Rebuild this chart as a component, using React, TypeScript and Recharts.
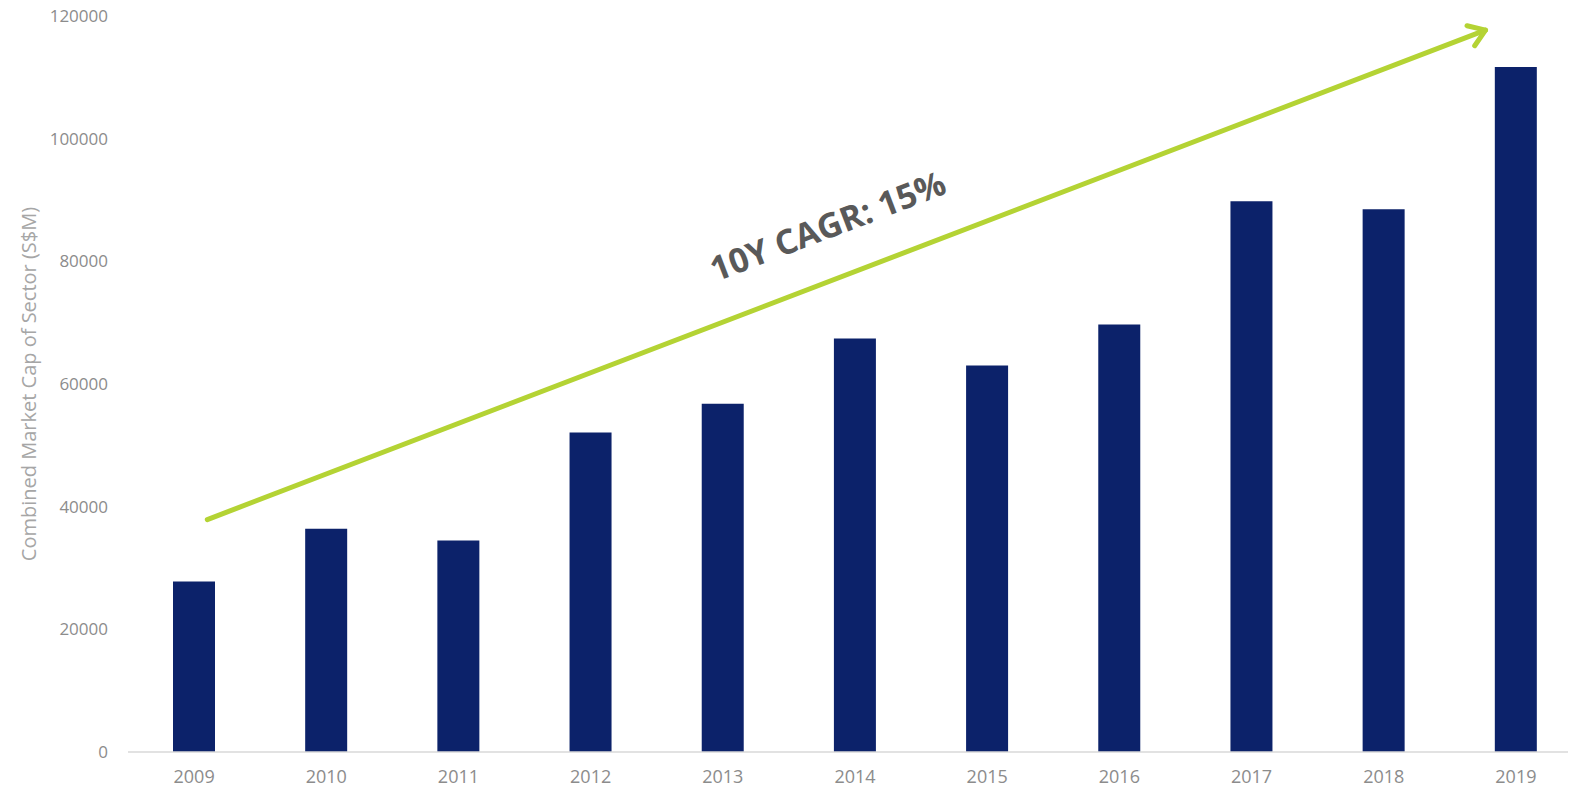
import { BarChart, Bar, XAxis, YAxis, ReferenceLine } from "recharts";

const years = ["2009", "2010", "2011", "2012", "2013", "2014", "2015", "2016", "2017", "2018", "2019"];
const marketCap = [27800, 36400, 34500, 52100, 56800, 67400, 63000, 69700, 89800, 88500, 111700];
const yTicks = [0, 20000, 40000, 60000, 80000, 100000, 120000];
// arrow start / end, x as category index
const trendStart = { x: 0.1, y: 37900 };
const trendEnd = { x: 9.77, y: 117700 };
const trendLabel = "10Y CAGR: 15%";

const data = years.map((year, i) => ({ year, idx: i, value: marketCap[i] }));

const GREEN = "#b4d334";

function TrendArrow(props: any) {
  const { x1, y1, x2, y2 } = props;
  const ang = Math.atan2(y2 - y1, x2 - x1);
  const head = 19;
  const spread = 0.6;
  const ax = x2 - head * Math.cos(ang - spread);
  const ay = y2 - head * Math.sin(ang - spread);
  const bx = x2 - head * Math.cos(ang + spread);
  const by = y2 - head * Math.sin(ang + spread);
  // text sits above the line, around its middle
  const t = 0.5;
  const mx = x1 + (x2 - x1) * t;
  const my = y1 + (y2 - y1) * t;
  const off = 53;
  const tx = mx + off * Math.sin(ang);
  const ty = my - off * Math.cos(ang);
  const deg = (ang * 180) / Math.PI;
  return (
    <g>
      <line x1={x1} y1={y1} x2={x2} y2={y2} stroke={GREEN} strokeWidth={5} strokeLinecap="round" />
      <polyline
        points={`${ax},${ay} ${x2},${y2} ${bx},${by}`}
        fill="none"
        stroke={GREEN}
        strokeWidth={5}
        strokeLinecap="round"
        strokeLinejoin="round"
      />
      <text
        x={tx}
        y={ty}
        textAnchor="middle"
        dominantBaseline="central"
        transform={`rotate(${deg}, ${tx}, ${ty})`}
        fontFamily="'Open Sans', sans-serif"
        fontWeight={700}
        fontSize={34}
        fill="#595959"
      >
        {trendLabel}
      </text>
    </g>
  );
}

export default function App() {
  const tickStyle = { fontFamily: "'Open Sans', sans-serif", fontSize: 17, fill: "#8c8c8c" };
  return (
    <div style={{ width: 1576, height: 789, overflow: "hidden", margin: "-8px 0 0 -8px" }}>
      <BarChart
        width={1582}
        height={789}
        data={data}
        margin={{ top: 16, right: 0, bottom: 7, left: 0 }}
        barSize={42}
      >
        <XAxis
          dataKey="year"
          axisLine={{ stroke: "#d9d9d9", strokeWidth: 1.5 }}
          tickLine={false}
          tickSize={0}
          tickMargin={18}
          height={30}
          tick={{ ...tickStyle, fontSize: 18 }}
          interval={0}
        />
        <XAxis
          xAxisId="n"
          dataKey="idx"
          type="number"
          scale="linear"
          domain={[-0.5, 10.5]}
          allowDataOverflow
          hide
        />
        <YAxis
          domain={[0, 120000]}
          ticks={yTicks}
          width={128}
          axisLine={false}
          tickLine={false}
          tickSize={0}
          tickMargin={20}
          tick={tickStyle}
          label={{
            content: (p: any) => {
              const vb = p.viewBox || {};
              const cy = (vb.y ?? 16) + (vb.height ?? 736) / 2;
              return (
                <text
                  x={28}
                  y={cy}
                  textAnchor="middle"
                  dominantBaseline="central"
                  transform={`rotate(-90, 28, ${cy})`}
                  fontFamily="'Open Sans', sans-serif"
                  fontSize={20}
                  fill="#a6a6a6"
                >
                  Combined Market Cap of Sector (S$M)
                </text>
              );
            },
          }}
        />
        <Bar dataKey="value" fill="#0c226a" isAnimationActive={false} />
        <ReferenceLine
          xAxisId="n"
          segment={[trendStart, trendEnd]}
          ifOverflow="visible"
          shape={TrendArrow}
        />
      </BarChart>
    </div>
  );
}
